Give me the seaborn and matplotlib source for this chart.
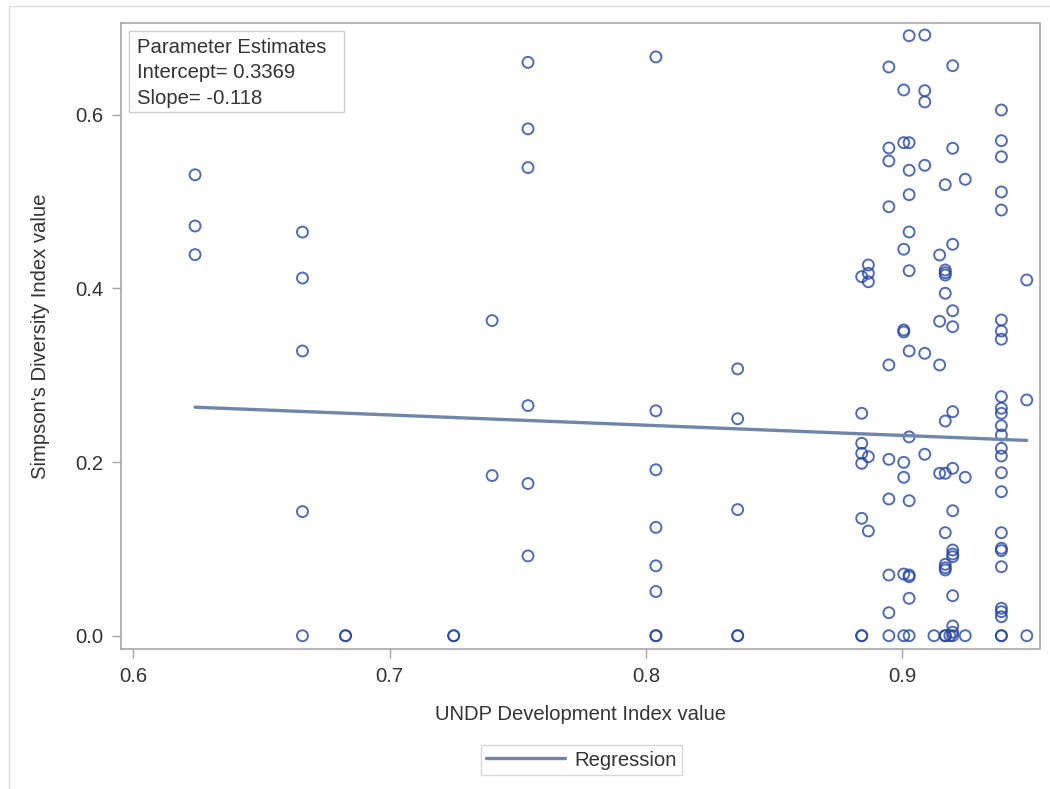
import matplotlib
matplotlib.use("Agg")
import matplotlib.pyplot as plt
from matplotlib.patches import Rectangle
from matplotlib.lines import Line2D
import numpy as np
import pandas as pd
import seaborn as sns

# Simpson's diversity index observed at each UNDP development index level
hdi_0624 = [0.531, 0.472, 0.439]
hdi_0666 = [0.465, 0.412, 0.328, 0.143, 0.0]
hdi_0683 = [0.0, 0.0]
hdi_0725 = [0.0, 0.0]
hdi_0740 = [0.363, 0.1845]
hdi_0754 = [0.6605, 0.5839, 0.5393, 0.2651, 0.1753, 0.0919]
hdi_0804 = [0.6668, 0.2591, 0.1912, 0.1248, 0.0805, 0.0509, 0.0, 0.0]
hdi_0836 = [0.3074, 0.250, 0.1453, 0.0, 0.0]
hdi_0884 = [0.4136, 0.2562, 0.2217, 0.2101, 0.1986, 0.1352, 0.0, 0.0]
hdi_0887 = [0.4271, 0.4175, 0.4078, 0.2062, 0.1206]
hdi_0895 = [0.6552, 0.5619, 0.5469, 0.4942, 0.3119, 0.2032, 0.1575, 0.0699, 0.0265, 0.0]
hdi_0901 = [0.6287, 0.568, 0.4452, 0.3522, 0.3499, 0.1997, 0.1825, 0.0711, 0.0]
hdi_0903 = [0.6912, 0.568, 0.5362, 0.5081, 0.4651, 0.4205, 0.328, 0.229, 0.1555,
            0.0699, 0.068, 0.0431, 0.0]
hdi_0909 = [0.692, 0.6279, 0.6149, 0.5419, 0.3253, 0.209]
hdi_0912 = [0.0]
hdi_0915 = [0.4386, 0.3622, 0.3119, 0.1871]
hdi_0917 = [0.5196, 0.4213, 0.4182, 0.4155, 0.3945, 0.2473, 0.1871, 0.1187,
            0.0822, 0.0783, 0.0757, 0.0, 0.0]
hdi_0919 = [0.0]
hdi_0920 = [0.6567, 0.5615, 0.4509, 0.3744, 0.356, 0.2581, 0.1928, 0.144,
            0.0987, 0.0941, 0.091, 0.0461, 0.0112, 0.004, 0.0]
hdi_0925 = [0.5258, 0.1825, 0.0]
hdi_0939 = [0.6056, 0.5703, 0.5518, 0.5112, 0.4904, 0.3637, 0.351, 0.3415,
            0.2754, 0.262, 0.2562, 0.2419, 0.2312, 0.2159, 0.207, 0.1878,
            0.1659, 0.1187, 0.1007, 0.098, 0.0795, 0.0316, 0.0277, 0.0219,
            0.0, 0.0]
hdi_0949 = [0.4098, 0.2716, 0.0]

hdi_levels = [0.6241, 0.666, 0.6828, 0.725, 0.740, 0.754, 0.8039, 0.8358,
              0.8842, 0.8868, 0.8948, 0.9006, 0.9027, 0.9088, 0.9124, 0.9146,
              0.9168, 0.9186, 0.9197, 0.9246, 0.9387, 0.9486]
simpson_by_level = [hdi_0624, hdi_0666, hdi_0683, hdi_0725, hdi_0740, hdi_0754,
                    hdi_0804, hdi_0836, hdi_0884, hdi_0887, hdi_0895, hdi_0901,
                    hdi_0903, hdi_0909, hdi_0912, hdi_0915, hdi_0917, hdi_0919,
                    hdi_0920, hdi_0925, hdi_0939, hdi_0949]

# Fitted regression parameters
intercept = 0.3369
slope = -0.118

x_ticks = [0.6, 0.7, 0.8, 0.9]
y_ticks = [0.0, 0.2, 0.4, 0.6]

df = pd.DataFrame(
    [(h, s) for h, vals in zip(hdi_levels, simpson_by_level) for s in vals],
    columns=["hdi", "simpson"],
)

sns.set_theme(style="white")
plt.rcParams["font.family"] = ["Liberation Sans", "DejaVu Sans"]

W, H = 1050, 789
fig = plt.figure(figsize=(W / 100, H / 100), dpi=100)
fig.patch.set_facecolor("white")

# axes frame in pixel units
L, R, T, B = 121, 1039.5, 22.7, 649.3
ax = fig.add_axes([L / W, 1 - B / H, (R - L) / W, (B - T) / H])

marker_color = "#2446A6"
line_color = "#6F86AA"
frame_color = "#A6A6A6"
text_color = "#333333"
fs = 14.6

sns.scatterplot(data=df, x="hdi", y="simpson", ax=ax, marker="o", s=62,
                facecolors="none", edgecolor=marker_color, linewidth=1.4,
                alpha=0.8, zorder=3)

xfit = np.array([df["hdi"].min(), df["hdi"].max()])
sns.lineplot(x=xfit, y=intercept + slope * xfit, ax=ax, color=line_color,
             linewidth=2.4, zorder=4)

ax.set_xlim(0.5952, 0.95357)
ax.set_ylim(-0.01567, 0.7062)
ax.set_xticks(x_ticks)
ax.set_yticks(y_ticks)
ax.set_xticklabels([f"{v:.1f}" for v in x_ticks])
ax.set_yticklabels([f"{v:.1f}" for v in y_ticks])
ax.tick_params(axis="both", direction="out", length=6.5, width=1.0,
               color=frame_color, labelsize=fs, labelcolor=text_color, pad=5)
ax.tick_params(axis="x", bottom=True, pad=6)
ax.tick_params(axis="y", left=True, pad=6)
for sp in ax.spines.values():
    sp.set_color(frame_color)
    sp.set_linewidth(1.2)
ax.grid(False)

ax.set_xlabel("UNDP Development Index value", fontsize=fs, color=text_color)
ax.xaxis.label.set_va("baseline")
ax.xaxis.set_label_coords(0.5, -(720 - B) / (B - T))
ax.set_ylabel("Simpson's Diversity Index value", fontsize=fs, color=text_color)
ax.yaxis.label.set_va("baseline")
ax.yaxis.set_label_coords(-(L - 46) / (R - L), 0.5)

# parameter estimates box
box_l, box_t, box_r, box_b = 129.3, 30.7, 344, 111.7
fig.add_artist(Rectangle((box_l / W, 1 - box_b / H), (box_r - box_l) / W,
                         (box_b - box_t) / H, transform=fig.transFigure,
                         facecolor="white", edgecolor="#CCCCCC", linewidth=1.0,
                         zorder=5))
for txt, base in [("Parameter Estimates", 53.0),
                  (f"Intercept= {intercept}", 78.2),
                  (f"Slope= {slope}", 103.6)]:
    fig.text(136.7 / W, 1 - base / H, txt, fontsize=fs, color=text_color,
             va="baseline", ha="left", zorder=6)

# legend below the axes
handle = Line2D([], [], color=line_color, linewidth=2.4)
leg = fig.legend([handle], ["Regression"], loc="center",
                 bbox_to_anchor=(581.2 / W, 1 - 760 / H), fontsize=fs,
                 frameon=True, fancybox=False, handlelength=3.9,
                 handletextpad=0.45, borderpad=0.25, borderaxespad=0)
leg.get_frame().set_edgecolor("#CCCCCC")
leg.get_frame().set_linewidth(1.0)
for t in leg.get_texts():
    t.set_color(text_color)

# outer border of the graph area
fig.add_artist(Line2D([9 / W, 9 / W], [0, 1 - 5.5 / H], transform=fig.transFigure,
                      color="#DDDDDD", linewidth=1.0))
fig.add_artist(Line2D([9 / W, 1], [1 - 5.5 / H, 1 - 5.5 / H],
                      transform=fig.transFigure, color="#DDDDDD", linewidth=1.0))

fig.savefig("out.png", dpi=100)
